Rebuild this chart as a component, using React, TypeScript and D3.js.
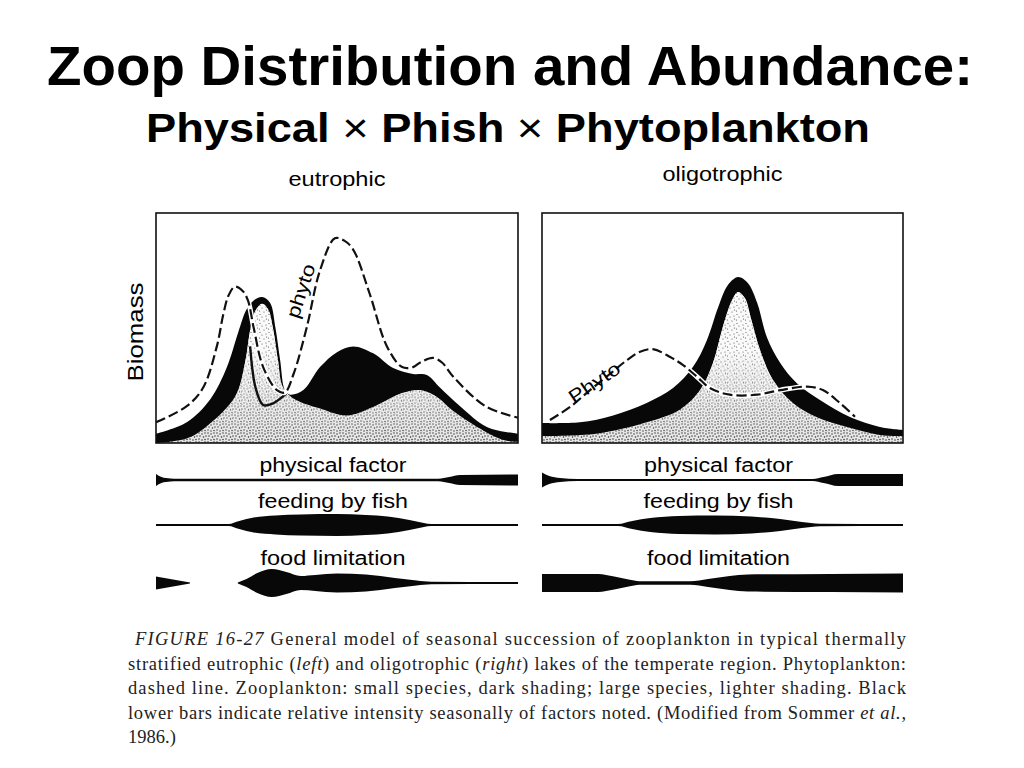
import * as d3 from "d3";

// ---- labels ----
const titleText = "Zoop Distribution and Abundance:";
const subtitleParts = ["Physical ", "\u00d7", " Phish ", "\u00d7", " Phytoplankton"];
const panelTitles = ["eutrophic", "oligotrophic"];
const factorLabels = ["physical factor", "feeding by fish", "food limitation"];
const phytoLabels = ["phyto", "Phyto"];
const yLabel = "Biomass";

// ---- eutrophic lake: [season 0-100, biomass 0-100] ----
const eutroPhyto: [number, number][] = [
  [0, 9], [8.5, 16], [13, 24], [16.8, 42], [18.6, 56], [20, 64], [21.8, 68], [24, 66],
  [25.4, 62], [27, 50], [29.6, 33], [33.4, 23], [35.6, 22], [38, 30], [41.6, 50],
  [45.3, 75], [49.4, 89], [52, 88], [54.5, 84], [59, 65], [63.8, 42], [68, 33],
  [71, 33], [73, 35], [76.5, 37], [79, 35], [82, 29], [91, 16], [100, 11],
];
// small + large zooplankton (top of dark shading)
const eutroTotal: [number, number][] = [
  [0, 4], [8.5, 9], [15, 19], [19.6, 33], [22.7, 48], [25, 58], [27, 62], [29.3, 63.5],
  [31.5, 61], [33, 50], [34.3, 36], [35.6, 23], [37, 21], [40.7, 23], [45.3, 33],
  [50, 39.5], [54.5, 42], [60, 39], [65.5, 32.6], [71, 30], [74.8, 29.6], [78.5, 24],
  [84, 16], [91.4, 7], [100, 4],
];
// large zooplankton (top of light shading)
const eutroLarge: [number, number][] = [
  [0, 0], [8.5, 2], [13, 6], [21.8, 20], [24.6, 35], [26, 49], [27.3, 57], [29.3, 60.5],
  [31, 58], [32.3, 50], [33.7, 36], [35, 24.5], [37.8, 19.5], [45.3, 15], [52.7, 12],
  [60, 15.7], [68, 21.7], [73, 23], [77.6, 20], [82, 14], [88.7, 7], [96, 1.3], [100, 0.5],
];
const eutroSmallDip: [number, number][] = [
  [26, 42], [27.5, 24], [29.6, 16.5], [32, 17], [36, 21.5],
];

// ---- oligotrophic lake ----
const oligoPhyto: [number, number][] = [
  [2.2, 10], [7.8, 15.7], [13.3, 23], [18.8, 30], [23.5, 36], [27, 39.6], [30.7, 40.8],
  [35.5, 37.4], [39, 34], [43, 28.7], [46.5, 23.9], [52, 21], [59.6, 21], [66, 23],
  [73.4, 24.5], [77.8, 23], [82.5, 17.4], [86.7, 11.4],
];
const oligoTotal: [number, number][] = [
  [0, 8.7], [10.5, 9], [19.7, 12], [29, 17.4], [36.3, 23.9], [41.8, 33], [45.7, 44.8],
  [48.8, 59], [51.5, 68.7], [54.3, 72.2], [57, 69.6], [59.6, 61], [62.3, 46], [66, 34.8],
  [70.6, 26], [77, 18.7], [85.3, 11.3], [93.6, 7], [100, 5.7],
];
const oligoLarge: [number, number][] = [
  [0, 3], [15, 4], [29, 9], [38.2, 14.5], [43.8, 23], [47.4, 35], [50, 50],
  [52.6, 62], [54.3, 65.7], [56.2, 63], [58, 53.5], [60.4, 40.4], [64, 27.4],
  [69.5, 17.4], [76, 11.3], [84.5, 7], [93.6, 3.5], [100, 3],
];

// ---- factor intensity bars: [season, relative intensity] ----
const eutroPhysical: [number, number][][] = [[
  [0, 12], [1.5, 6], [4, 3], [6, 2.5], [78, 2.5], [81, 6], [84, 10], [100, 11],
]];
const eutroFeeding: [number, number][][] = [[
  [0, 2], [20, 2], [23, 8], [27, 15], [33, 19], [40, 21], [50, 22], [58, 20],
  [64, 17], [70, 10], [74, 4], [76, 2], [100, 2],
]];
const eutroFood: [number, number][][] = [
  [[0, 13], [9.4, 1]],
  [[22.6, 1], [25, 8], [28, 20], [32, 28], [36, 22], [40, 14], [44, 16], [50, 19],
   [58, 17], [66, 10], [72, 5], [76, 2.5], [100, 2]],
];
const oligoPhysical: [number, number][][] = [[
  [0, 15], [2, 8], [5, 4], [9.7, 2], [75, 2], [78, 6], [82, 12], [100, 12],
]];
const oligoFeeding: [number, number][][] = [[
  [0, 2], [21, 2], [25, 8], [30, 14], [38, 18], [48, 19], [58, 17], [66, 12],
  [72, 6], [77, 2.5], [100, 2],
]];
const oligoFood: [number, number][][] = [[
  [0, 18], [15.5, 18], [20, 13], [24, 7], [27, 3.5], [41, 3.5], [46, 8], [52, 14],
  [57, 17], [80, 18], [100, 19],
]];

// ---- caption ----
const captionLines: [string, boolean][][] = [
  [["FIGURE 16-27", true], ["  General model of seasonal succession of zooplankton in typical thermally", false]],
  [["stratified eutrophic (", false], ["left", true], [") and oligotrophic (", false], ["right", true],
   [") lakes of the temperate region. Phytoplankton:", false]],
  [["dashed line. Zooplankton: small species, dark shading; large species, lighter shading. Black", false]],
  [["lower bars indicate relative intensity seasonally of factors noted. (Modified from Sommer ", false],
   ["et al.", true], [",", false]],
  [["1986.)", false]],
];

const TOP = 213;
const BOTTOM = 443;
const barRows = [480, 525, 583];
const labelRows = [472, 508, 565];

type Pt = [number, number];

function Panel(props: {
  id: string;
  range: [number, number];
  title: string;
  titleY: number;
  titleW: number;
  phyto: Pt[];
  total: Pt[];
  large: Pt[];
  dip?: Pt[];
  label: { text: string; x: number; y: number; angle: number; w: number };
  bars: Pt[][][];
  labelW: number[];
}) {
  const x = d3.scaleLinear().domain([0, 100]).range(props.range);
  const y = d3.scaleLinear().domain([0, 100]).range([BOTTOM, TOP]);
  const w = d3.scaleLinear().domain([0, 30]).range([0, 30]);
  const curve = d3.curveCatmullRom.alpha(0.5);
  const area = d3
    .area<Pt>()
    .x((d) => x(d[0]))
    .y0(y(0))
    .y1((d) => y(d[1]))
    .curve(curve);
  const line = d3
    .line<Pt>()
    .x((d) => x(d[0]))
    .y((d) => y(d[1]))
    .curve(curve);
  const cx = (props.range[0] + props.range[1]) / 2;

  return (
    <g>
      <defs>
        <clipPath id={`clip-${props.id}`}>
          <rect x={props.range[0]} y={TOP} width={props.range[1] - props.range[0]} height={BOTTOM - TOP} />
        </clipPath>
      </defs>
      <text
        x={cx}
        y={props.titleY}
        textAnchor="middle"
        fontSize={20}
        textLength={props.titleW}
        lengthAdjust="spacingAndGlyphs"
      >
        {props.title}
      </text>
      <g clipPath={`url(#clip-${props.id})`}>
        <path d={area(props.total) ?? ""} fill="#080808" />
        <path d={area(props.large) ?? ""} fill="url(#stippleDense)" />
        <path d={area(props.large) ?? ""} fill="url(#stippleLight)" mask="url(#fadeMask)" />
        {props.dip && (
          <path d={line(props.dip) ?? ""} fill="none" stroke="#111" strokeWidth={2.4} />
        )}
        <path d={line(props.phyto) ?? ""} fill="none" stroke="#fff" strokeWidth={5} />
        <path
          d={line(props.phyto) ?? ""}
          fill="none"
          stroke="#111"
          strokeWidth={2.2}
          strokeDasharray="10 4"
        />
      </g>
      <rect
        x={props.range[0]}
        y={TOP}
        width={props.range[1] - props.range[0]}
        height={BOTTOM - TOP}
        fill="none"
        stroke="#111"
        strokeWidth={1.6}
      />
      <text
        transform={`translate(${props.label.x},${props.label.y}) rotate(${props.label.angle})`}
        textAnchor="middle"
        fontSize={19}
        textLength={props.label.w}
        lengthAdjust="spacingAndGlyphs"
      >
        {props.label.text}
      </text>

      {props.bars.map((segs, i) => {
        const cy = barRows[i];
        const bar = d3
          .area<Pt>()
          .x((d) => x(d[0]))
          .y0((d) => cy - w(d[1]) / 2)
          .y1((d) => cy + w(d[1]) / 2)
          .curve(d3.curveMonotoneX);
        return (
          <g key={i}>
            {segs.map((s, j) => (
              <path key={j} d={bar(s) ?? ""} fill="#080808" />
            ))}
            <text
              x={cx - 4}
              y={labelRows[i]}
              textAnchor="middle"
              fontSize={20}
              textLength={props.labelW[i]}
              lengthAdjust="spacingAndGlyphs"
            >
              {factorLabels[i]}
            </text>
          </g>
        );
      })}
    </g>
  );
}

export default function App() {
  const dots = [
    [1, 2], [5, 1], [7.5, 5], [3, 6], [8, 8.5], [5.5, 4],
  ];
  const denseDots = [
    [1, 1], [4, 2], [7, 1], [2, 4], [5.5, 5], [8, 4], [1, 7], [4, 8], [7, 7.5],
  ];
  return (
    <svg
      width={1024}
      height={768}
      style={{ display: "block", margin: -8, fontFamily: "'Liberation Sans', Arial, sans-serif" }}
    >
      <defs>
        <pattern id="stippleLight" width={9} height={9} patternUnits="userSpaceOnUse">
          <rect width={9} height={9} fill="#fafafa" />
          {dots.map((d, i) => (
            <circle key={i} cx={d[0]} cy={d[1]} r={0.6} fill="#555" />
          ))}
        </pattern>
        <pattern id="stippleDense" width={9} height={9} patternUnits="userSpaceOnUse">
          <rect width={9} height={9} fill="#e6e6e6" />
          {denseDots.map((d, i) => (
            <circle key={i} cx={d[0]} cy={d[1]} r={0.75} fill="#222" />
          ))}
        </pattern>
        <linearGradient id="fadeGrad" gradientUnits="userSpaceOnUse" x1={0} y1={TOP} x2={0} y2={BOTTOM}>
          <stop offset="0.6" stopColor="#fff" />
          <stop offset="1" stopColor="#000" />
        </linearGradient>
        <mask id="fadeMask" maskUnits="userSpaceOnUse" x={0} y={0} width={1024} height={768}>
          <rect x={0} y={0} width={1024} height={768} fill="url(#fadeGrad)" />
        </mask>
      </defs>
      <rect width={1024} height={768} fill="#fff" />

      <text x={510} y={85} textAnchor="middle" fontWeight="bold" fontSize={56} textLength={926} lengthAdjust="spacingAndGlyphs">
        {titleText}
      </text>
      <text x={508} y={142} textAnchor="middle" fontWeight="bold" fontSize={41} textLength={724} lengthAdjust="spacingAndGlyphs">
        {subtitleParts.map((t, i) => (
          <tspan key={i} fontWeight={t === "\u00d7" ? "normal" : "bold"}>
            {t}
          </tspan>
        ))}
      </text>

      <text
        transform="translate(143,332) rotate(-90)"
        textAnchor="middle"
        fontSize={22}
        textLength={99}
        lengthAdjust="spacingAndGlyphs"
      >
        {yLabel}
      </text>

      <Panel
        id="eu"
        range={[156, 518]}
        title={panelTitles[0]}
        titleY={186}
        titleW={97}
        phyto={eutroPhyto}
        total={eutroTotal}
        large={eutroLarge}
        dip={eutroSmallDip}
        label={{ text: phytoLabels[0], x: 307, y: 293, angle: -72, w: 56 }}
        bars={[eutroPhysical, eutroFeeding, eutroFood]}
        labelW={[147, 150, 145]}
      />
      <Panel
        id="ol"
        range={[542, 903]}
        title={panelTitles[1]}
        titleY={181}
        titleW={120}
        phyto={oligoPhyto}
        total={oligoTotal}
        large={oligoLarge}
        label={{ text: phytoLabels[1], x: 598, y: 388, angle: -34, w: 58 }}
        bars={[oligoPhysical, oligoFeeding, oligoFood]}
        labelW={[149, 150, 143]}
      />

      <g fontFamily="'Liberation Serif', 'Times New Roman', serif" fontSize={18.5} fill="#222" style={{ whiteSpace: "pre" }}>
        {captionLines.map((parts, i) => {
          const base = [645, 669.5, 694, 718.5, 743][i];
          const x0 = i === 0 ? 135 : 128;
          const justified = i < captionLines.length - 1;
          return (
            <text
              key={i}
              x={x0}
              y={base}
              textLength={justified ? 906 - x0 : undefined}
              lengthAdjust="spacing"
            >
              {parts.map(([t, it], j) => (
                <tspan key={j} fontStyle={it ? "italic" : "normal"}>
                  {t}
                </tspan>
              ))}
            </text>
          );
        })}
      </g>
    </svg>
  );
}
